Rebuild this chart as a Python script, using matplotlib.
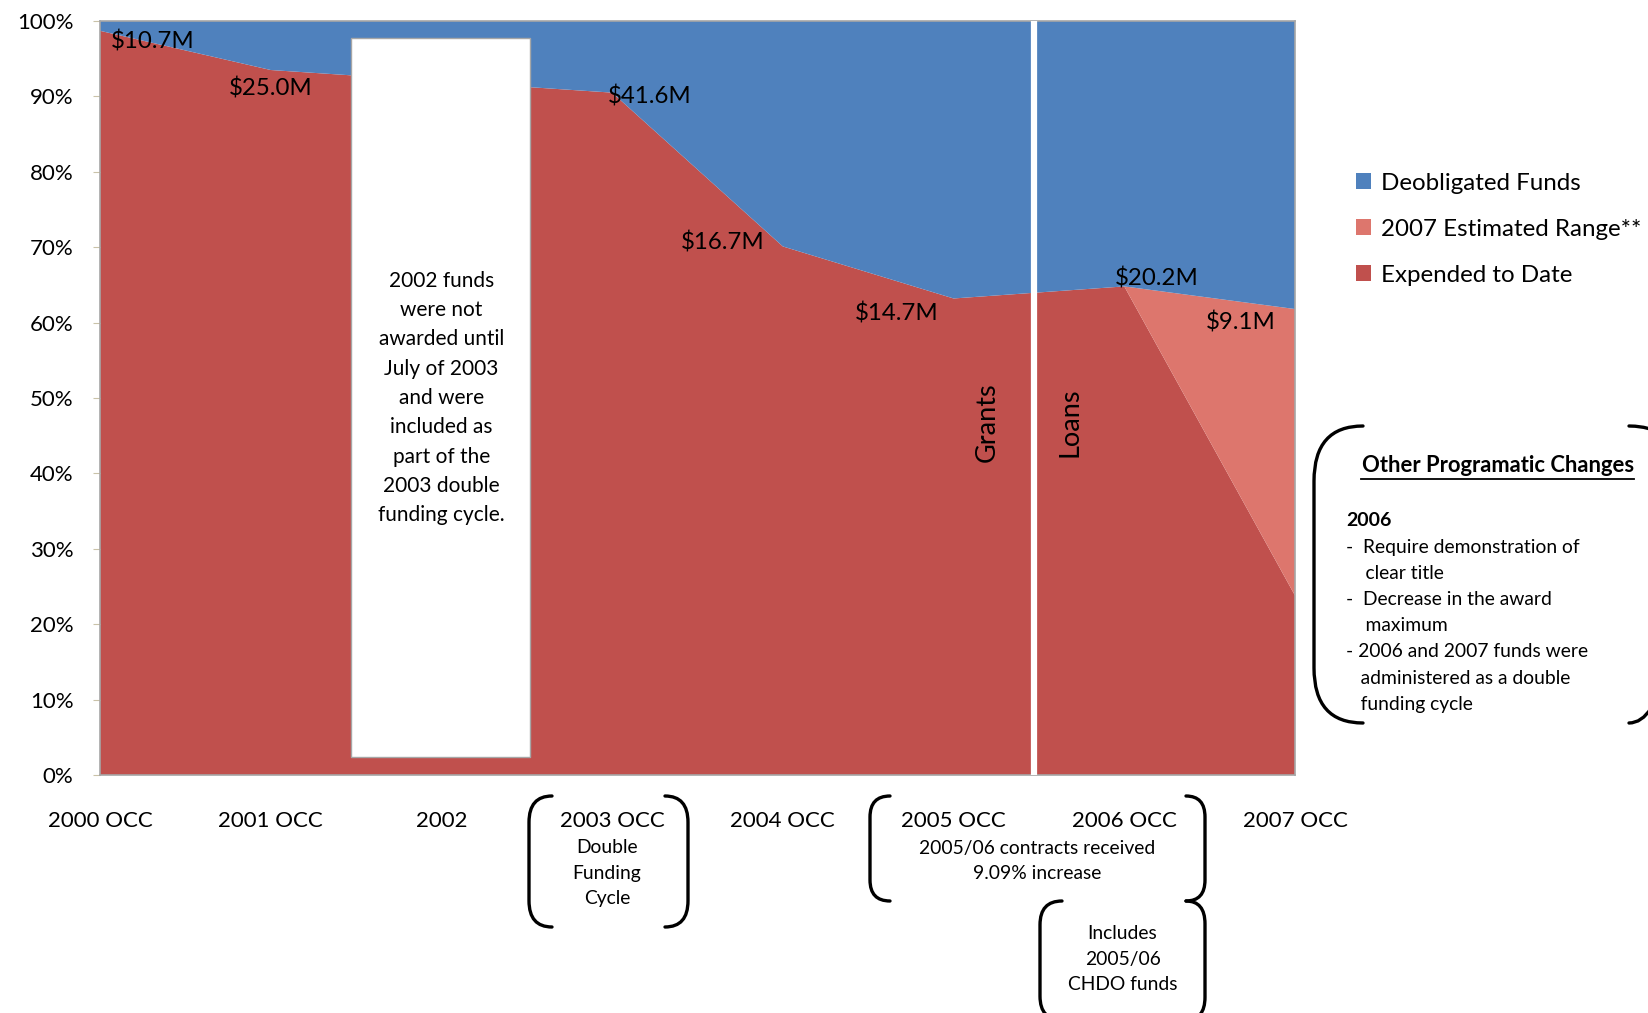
import matplotlib
matplotlib.use("Agg")
import matplotlib.pyplot as plt
from matplotlib.patches import Rectangle, PathPatch
from matplotlib.path import Path
from matplotlib.transforms import blended_transform_factory
import numpy as np

plt.rcParams['font.family'] = ['Lato', 'DejaVu Sans']

# ---------------- data ----------------
categories = ["2000 OCC", "2001 OCC", "2002", "2003 OCC", "2004 OCC",
              "2005 OCC", "2006 OCC", "2007 OCC"]
expended = [98.7, 93.5, 92.0, 90.5, 70.1, 63.2, 64.8, 23.8]
estimated = [0, 0, 0, 0, 0, 0, 0, 38.0]
deobligated = [100 - e - s for e, s in zip(expended, estimated)]

amount_labels = ["$10.7M", "$25.0M", "$41.6M", "$16.7M", "$14.7M", "$20.2M", "$9.1M"]
amount_x = [0.31, 1.0, 3.22, 3.65, 4.67, 6.19, 6.68]
amount_y = [97.25, 91.05, 90.05, 70.65, 61.15, 65.85, 60.05]

series_names = ["Expended to Date", "2007 Estimated Range**", "Deobligated Funds"]
colors = ["#C0504D", "#DD766D", "#4F81BD"]

W, H = 1648, 1013
fig = plt.figure(figsize=(W / 100, H / 100), dpi=100)
ax = fig.add_axes([100 / W, 1 - 775 / H, (1295 - 100) / W, (775 - 21) / H])

x = np.arange(len(categories))
polys = ax.stackplot(x, expended, estimated, deobligated, colors=colors,
                     labels=series_names, linewidth=0)
ax.set_xlim(0, len(categories) - 1)
ax.set_ylim(0, 100)

yt = np.arange(0, 101, 10)
ax.set_yticks(yt)
ax.set_yticklabels([f"{v}%" for v in yt], fontsize=16)
ax.tick_params(axis='y', length=5, color='#C9C2A8', pad=14)
ax.set_xticks(x)
ax.set_xticklabels(categories, fontsize=16)
ax.tick_params(axis='x', length=0, pad=26)
for s in ax.spines.values():
    s.set_color('#A6A6A6')
    s.set_linewidth(1.2)

# white box for 2002
ax.add_patch(Rectangle((1.47, 2.4), 1.05, 95.4, facecolor='white',
                       edgecolor='#A6A6A6', lw=1, zorder=3))
ax.text(2.0, 50.0, "2002 funds\nwere not\nawarded until\nJuly of 2003\nand were\nincluded as\npart of the\n2003 double\nfunding cycle.",
        ha='center', va='center', fontsize=15, linespacing=1.58, zorder=4)

# grants / loans separator
ax.axvline(5.47, color='white', lw=4.5, zorder=3)
ax.text(5.2, 46.8, "Grants", rotation=90, ha='center', va='center', fontsize=19.5, zorder=4)
ax.text(5.68, 46.8, "Loans", rotation=90, ha='center', va='center', fontsize=19.5, zorder=4)

for lab, lx, ly in zip(amount_labels, amount_x, amount_y):
    ax.text(lx, ly, lab, ha='center', va='center', fontsize=17.3, zorder=4)

# legend
handles = polys[::-1]
fig.legend(handles, series_names[::-1], loc='upper left',
           bbox_to_anchor=(1334 / W, 1 - 151 / H), frameon=False, fontsize=17.4,
           handlelength=0.65, handleheight=0.65, handletextpad=0.4, labelspacing=1.03)

# text below axis
bt = blended_transform_factory(ax.transData, fig.transFigure)
def fy(py):
    return 1 - py / H
ax.text(2.97, fy(873), "Double\nFunding\nCycle", transform=bt, ha='center', va='center',
        fontsize=13.9, linespacing=1.62)
ax.text(5.49, fy(861), "2005/06 contracts received\n9.09% increase", transform=bt,
        ha='center', va='center', fontsize=13.9, linespacing=1.62)
ax.text(5.99, fy(959), "Includes\n2005/06\nCHDO funds", transform=bt,
        ha='center', va='center', fontsize=13.9, linespacing=1.62)

# right note
fig.text(1498 / W, fy(466), "Other Programatic Changes", ha='center', va='center',
         fontsize=15.8, fontweight='bold')
fig.add_artist(plt.Line2D([1361 / W, 1634 / W], [fy(479), fy(479)], color='black', lw=1.3))
fig.text(1346 / W, fy(520), "2006", ha='left', va='center', fontsize=14, fontweight='bold')
note = ("-  Require demonstration of\n    clear title\n-  Decrease in the award\n    maximum\n"
        "- 2006 and 2007 funds were\n   administered as a double\n   funding cycle")
fig.text(1346 / W, fy(539), note, ha='left', va='top', fontsize=13.9, linespacing=1.65)

# brackets (figure pixel coords)
def bracket(x0, x1, y0, y1, side, r=None):
    h = y1 - y0
    w = x1 - x0
    if r is None:
        r = min(abs(w) * 1.2, 0.2 * h)
    if side == 'left':
        xo, xi = x1, x0
    else:
        xo, xi = x0, x1
    pts = [(xo, y0), (xi, y0), (xi, y0 + r), (xi, y1 - r), (xi, y1), (xo, y1)]
    codes = [Path.MOVETO, Path.CURVE3, Path.CURVE3, Path.LINETO, Path.CURVE3, Path.CURVE3]
    verts = [(px / W, 1 - py / H) for px, py in pts]
    fig.add_artist(PathPatch(Path(verts, codes), transform=fig.transFigure,
                             fill=False, lw=2.4, edgecolor='black', capstyle='round'))

bracket(529, 552, 796, 927, 'left')
bracket(665, 688, 796, 927, 'right')
bracket(870, 890, 796, 901, 'left')
bracket(1186, 1205, 796, 901, 'right')
bracket(1186, 1205, 901, 1020, 'right')
bracket(1040, 1062, 901, 1020, 'left')
bracket(1314, 1363, 426, 723, 'left', r=55)
bracket(1629, 1680, 426, 723, 'right', r=55)

fig.savefig("out.png", dpi=100)
